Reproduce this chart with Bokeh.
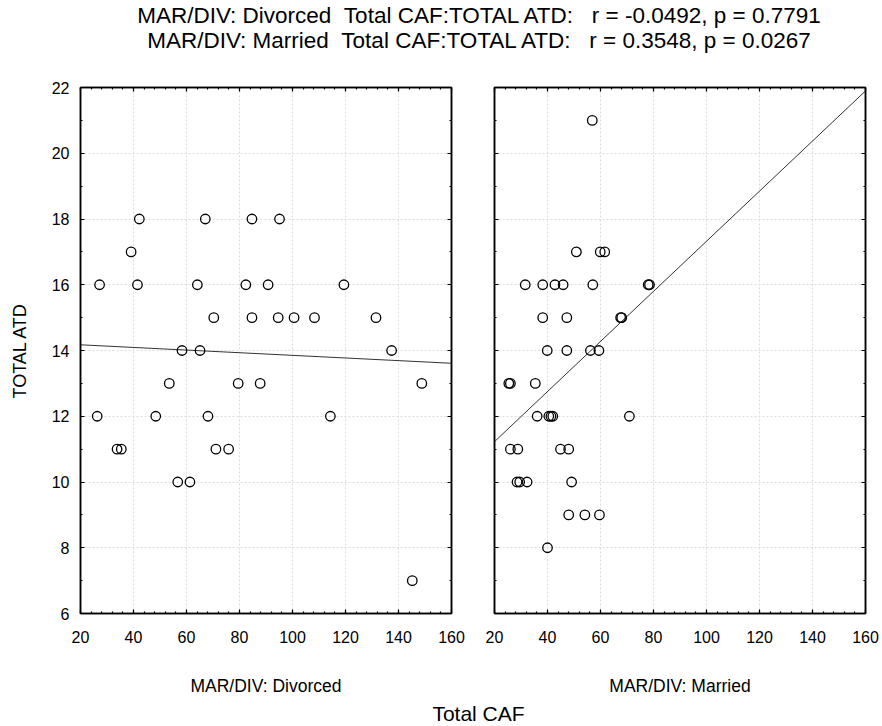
import numpy as np
from bokeh.plotting import figure
from bokeh.models import (Range1d, LinearAxis, SingleIntervalTicker, Label,
                          CustomJSTickFormatter)
from bokeh.layouts import column, row
from bokeh.embed import file_html
from bokeh.resources import INLINE

FONT = "Liberation Sans"
NB = "\u00a0"

# ---------------- data ----------------
title_lines = [
    "MAR/DIV: Divorced" + NB * 2 + "Total CAF:TOTAL ATD:" + NB * 3 + "r = -0.0492, p = 0.7791",
    "MAR/DIV: Married" + NB * 2 + "Total CAF:TOTAL ATD:" + NB * 3 + "r = 0.3548, p = 0.0267",
]
panel_labels = ["MAR/DIV: Divorced", "MAR/DIV: Married"]
x_title = "Total CAF"
y_title = "TOTAL ATD"
x_limits = [20, 160]
y_limits = [6, 22]

x_divorced = [42.2, 67.1, 84.7, 95.1, 39.1, 27.2, 41.5, 64.1, 82.4, 90.8, 119.4,
              70.3, 84.7, 94.6, 100.6, 108.3, 131.5, 58.3, 65.1, 137.4, 53.5, 79.5,
              87.8, 148.8, 26.3, 48.4, 68.1, 114.3, 33.8, 35.4, 71.1, 75.9, 56.7,
              61.3, 145.2]
y_divorced = [18, 18, 18, 18, 17, 16, 16, 16, 16, 16, 16,
              15, 15, 15, 15, 15, 15, 14, 14, 14, 13, 13,
              13, 13, 12, 12, 12, 12, 11, 11, 11, 11, 10,
              10, 7]

x_married = [56.9, 50.9, 59.9, 61.6, 31.6, 38.2, 42.8, 45.9, 57.1, 78.0, 78.5,
             38.2, 47.3, 67.6, 68.0, 39.9, 47.3, 56.2, 59.4, 25.4, 26.0, 35.4,
             36.1, 40.5, 41.3, 42.0, 70.9, 26.0, 28.8, 44.9, 48.0, 28.5, 29.5,
             32.3, 49.1, 48.0, 54.1, 59.6, 40.0]
y_married = [21, 17, 17, 17, 16, 16, 16, 16, 16, 16, 16,
             15, 15, 15, 15, 14, 14, 14, 14, 13, 13, 13,
             12, 12, 12, 12, 12, 11, 11, 11, 11, 10, 10,
             10, 10, 9, 9, 9, 8]

# ---------------- layout constants ----------------
FRAME_W = 371
FRAME_H = 526
LEFT_BL, LEFT_BR = 80, 22
RIGHT_BL, RIGHT_BR = 21, 15
TOP_B, BOT_B = 17, 40
HEADER_H, FOOTER_H = 70, 71
TOTAL_W = LEFT_BL + FRAME_W + LEFT_BR + RIGHT_BL + FRAME_W + RIGHT_BR


def blank_formatter():
    return CustomJSTickFormatter(code="return '';")


def style_axis(ax, labels=True):
    ax.axis_line_color = "black"
    ax.axis_line_width = 1.5
    ax.major_tick_in = 4
    ax.major_tick_out = 0
    ax.minor_tick_in = 2
    ax.minor_tick_out = 0
    ax.major_tick_line_color = "black"
    ax.minor_tick_line_color = "black"
    ax.major_tick_line_width = 1.2
    ax.minor_tick_line_width = 1.2
    if labels:
        ax.major_label_text_font = FONT
        ax.major_label_text_font_size = "16px"
        ax.major_label_text_color = "black"
    else:
        ax.formatter = blank_formatter()
        ax.major_label_text_font_size = "0px"
        ax.major_label_standoff = 0


def make_panel(xs, ys, bl, br, show_ylabels):
    xt = SingleIntervalTicker(interval=20, num_minor_ticks=5)
    yt = SingleIntervalTicker(interval=2, num_minor_ticks=2)
    p = figure(frame_width=FRAME_W, frame_height=FRAME_H,
               x_range=Range1d(*x_limits), y_range=Range1d(*y_limits),
               toolbar_location=None, output_backend="svg",
               min_border_left=bl, min_border_right=br,
               min_border_top=TOP_B, min_border_bottom=BOT_B)
    p.background_fill_color = "white"
    p.border_fill_color = "white"
    p.outline_line_color = "black"
    p.outline_line_width = 1.5

    p.xaxis.ticker = xt
    p.yaxis.ticker = yt
    style_axis(p.xaxis[0], True)
    p.xaxis.major_label_standoff = 17
    style_axis(p.yaxis[0], show_ylabels)
    if show_ylabels:
        p.yaxis.major_label_standoff = 11
        p.yaxis.axis_label = y_title
        p.yaxis.axis_label_text_font = FONT
        p.yaxis.axis_label_text_font_size = "18px"
        p.yaxis.axis_label_text_font_style = "normal"
        p.yaxis.axis_label_text_color = "black"
        p.yaxis.axis_label_standoff = 19

    top = LinearAxis(ticker=xt)
    style_axis(top, False)
    p.add_layout(top, "above")
    right = LinearAxis(ticker=yt)
    style_axis(right, False)
    p.add_layout(right, "right")

    p.xgrid.ticker = xt
    p.ygrid.ticker = yt
    for g in (p.xgrid[0], p.ygrid[0]):
        g.grid_line_color = "#dcdcdc"
        g.grid_line_dash = "2 2"
        g.grid_line_width = 1

    # regression line computed from the data
    slope, intercept = np.polyfit(np.array(xs), np.array(ys), 1)
    lx = np.array(x_limits, dtype=float)
    p.line(lx, intercept + slope * lx, line_color="#333333", line_width=1)

    p.scatter(xs, ys, marker="circle", size=9.5, fill_color=None,
              line_color="black", line_width=1.3)
    return p


left = make_panel(x_divorced, y_divorced, LEFT_BL, LEFT_BR, True)
right = make_panel(x_married, y_married, RIGHT_BL, RIGHT_BR, False)


def text_fig(h):
    f = figure(width=TOTAL_W, height=h, x_range=Range1d(0, TOTAL_W),
               y_range=Range1d(h, 0), toolbar_location=None,
               output_backend="svg", min_border=0,
               x_axis_location=None, y_axis_location=None)
    f.outline_line_color = None
    f.grid.visible = False
    f.background_fill_color = "white"
    f.border_fill_color = "white"
    return f


header = text_fig(HEADER_H)
title_ys = [15, 40]
for txt, ty in zip(title_lines, title_ys):
    header.add_layout(Label(x=479.5, y=ty, text=txt, text_align="center",
                            text_baseline="middle", text_font=FONT,
                            text_font_size="22.5px", text_color="black"))

footer = text_fig(FOOTER_H)
left_center = LEFT_BL + FRAME_W / 2
right_center = LEFT_BL + FRAME_W + LEFT_BR + RIGHT_BL + FRAME_W / 2
for txt, cx in zip(panel_labels, [left_center, right_center]):
    footer.add_layout(Label(x=cx, y=32, text=txt, text_align="center",
                            text_baseline="middle", text_font=FONT,
                            text_font_size="17.5px", text_color="black"))
footer.add_layout(Label(x=478, y=60, text=x_title, text_align="center",
                        text_baseline="middle", text_font=FONT,
                        text_font_size="21px", text_color="black"))

layout = column(header, row(left, right), footer)
open("out.html", "w").write(file_html(layout, INLINE))
